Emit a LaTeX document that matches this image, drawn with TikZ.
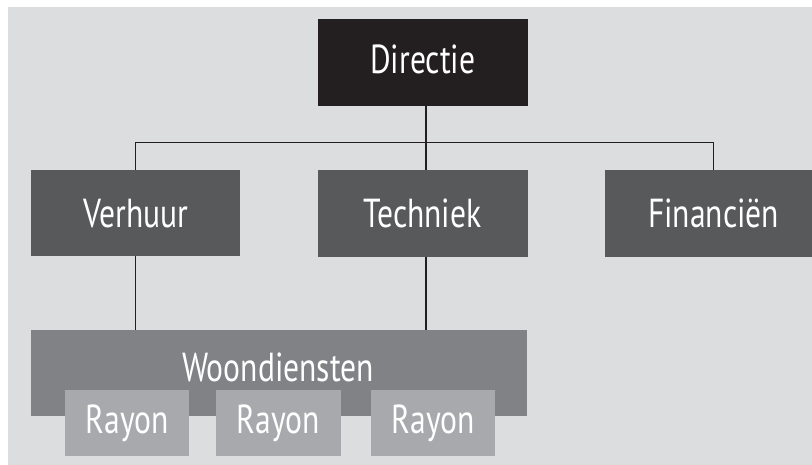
\documentclass[tikz,border=0pt]{standalone}
\usepackage{fontspec}
\setmainfont{PT Sans}
\usepackage{graphicx}
\definecolor{bgc}{HTML}{DCDDDF}
\definecolor{topc}{HTML}{231F20}
\definecolor{deptc}{HTML}{58595B}
\definecolor{woonc}{HTML}{808285}
\definecolor{rayonc}{HTML}{A7A9AC}
\newcommand{\lbl}[1]{\scalebox{0.78}[1]{#1}}
\begin{document}
\begin{tikzpicture}[x=1pt,y=-1pt,
  box/.style={anchor=north west, inner sep=0pt, text=white,
    font=\fontsize{40.5}{40.5}\selectfont},
  link/.style={draw=topc, line width=1.1pt}]
\useasboundingbox (0,0) rectangle (812,465);
\clip (0,0) rectangle (812,465);
\fill[bgc] (8,7) rectangle (812,465);

% board
\node[box, fill=topc, minimum width=210pt, minimum height=87pt] (dir) at (317.5,19) {\raisebox{7pt}{\lbl{Directie}}};

% departments
\node[box, fill=deptc, minimum width=209pt, minimum height=86pt] (verh) at (31,170) {\lbl{Verhuur}};
\node[box, fill=deptc, minimum width=210pt, minimum height=87pt] (tech) at (317.5,170) {\lbl{Techniek}};
\node[box, fill=deptc, minimum width=217pt, minimum height=87pt] (fin) at (605,170) {\lbl{Financiën}};

% housing services with districts
\node[box, fill=woonc, minimum width=496pt, minimum height=86pt] (woon) at (31,330) {};
\node[anchor=center, text=white, font=\fontsize{40.5}{40.5}\selectfont] (woontext) at (278,367) {\lbl{Woondiensten}};
\node[box, fill=rayonc, minimum width=124pt, minimum height=66pt] (r1) at (65,390) {\lbl{Rayon}};
\node[box, fill=rayonc, minimum width=125pt, minimum height=66pt] (r2) at (215.5,390) {\lbl{Rayon}};
\node[box, fill=rayonc, minimum width=124pt, minimum height=66pt] (r3) at (371,390) {\lbl{Rayon}};

% connectors
\coordinate (bus) at (426,142.7);
\draw[link] (dir.south -| bus) -- (tech.north -| bus);
\draw[link] (verh.north) |- (bus) -| (fin.north);
\draw[link] (verh.south) -- (verh.south |- woon.north);
\draw[link] (tech.south -| bus) -- (woon.north -| bus);
\end{tikzpicture}
\end{document}
